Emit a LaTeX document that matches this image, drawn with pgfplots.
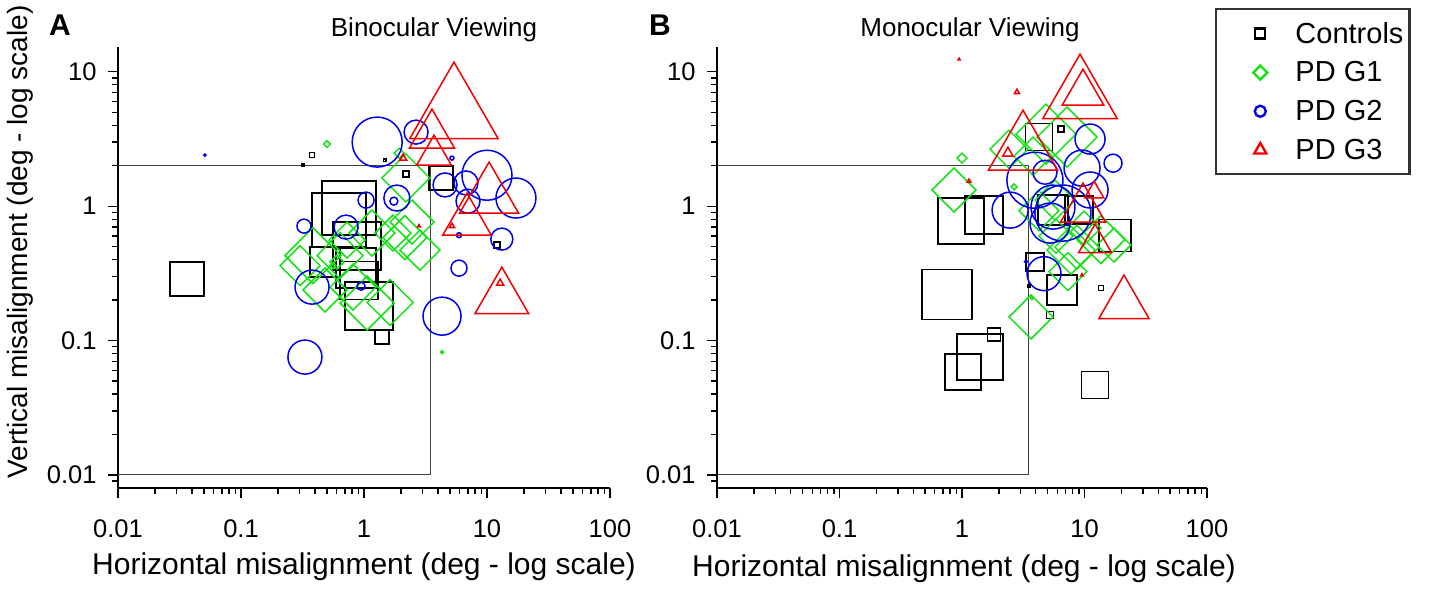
\documentclass[border=0pt]{standalone}
\usepackage{pgfplots}
\pgfplotsset{compat=1.18}
\usepackage{fontspec}
\setmainfont{Liberation Sans}

\definecolor{mgreen}{RGB}{20,225,20}
\definecolor{mblue}{RGB}{0,0,235}
\definecolor{mred}{RGB}{240,0,0}

% diamond with equal width and height (MATLAB style)
\pgfdeclareplotmark{rdiamond}{%
  \pgfpathmoveto{\pgfqpoint{0pt}{\pgfplotmarksize}}%
  \pgfpathlineto{\pgfqpoint{\pgfplotmarksize}{0pt}}%
  \pgfpathlineto{\pgfqpoint{0pt}{-\pgfplotmarksize}}%
  \pgfpathlineto{\pgfqpoint{-\pgfplotmarksize}{0pt}}%
  \pgfpathclose\pgfusepathqstroke}

\pgfplotsset{
  every axis/.append style={
    scale only axis, height=441pt,
    xmin=0.01, xmax=100, ymin=0.0080, ymax=15.3,
    axis lines=left, axis line style={-, line width=1.6pt},
    tick align=outside, major tick length=10pt, minor tick length=6pt,
    tick style={black, line width=1.3pt},
    xtick={0.01,0.1,1,10,100}, xticklabels={0.01,0.1,1,10,100},
    ytick={0.01,0.1,1,10}, yticklabels={0.01,0.1,1,10},
    minor xtick={0.02,0.03,0.04,0.05,0.06,0.07,0.08,0.09,0.2,0.3,0.4,0.5,0.6,0.7,0.8,0.9,2,3,4,5,6,7,8,9,20,30,40,50,60,70,80,90},
    minor ytick={0.009,0.02,0.03,0.04,0.05,0.06,0.07,0.08,0.09,0.2,0.3,0.4,0.5,0.6,0.7,0.8,0.9,2,3,4,5,6,7,8,9},
    tick label style={font=\fontsize{25.5}{28}\selectfont},
    xticklabel style={yshift=-18pt},
    yticklabel style={xshift=-8pt},
    clip=false,
  },
}

\begin{document}
\begin{tikzpicture}
\useasboundingbox (0pt,0pt) rectangle (1430pt,590pt);

% ---------------- panel A ----------------
\begin{loglogaxis}[at={(118pt,102pt)}, anchor=south west, width=492pt]
\addplot[black!75, line width=1pt, no marks, forget plot] coordinates {(0.01,2) (3.5,2) (3.5,0.01) (0.01,0.01)};
\addplot[only marks, mark=square, line width=1.5pt, draw=black, scatter,
    scatter/use mapped color={draw=black, fill=none}, point meta=explicit,
    visualization depends on={\thisrow{r}\as\psz},
    scatter/@pre marker code/.append style={/tikz/mark size=\psz pt}, forget plot]
  table[row sep=\\, meta=r] {
x y r \\
0.755 0.968 27 \\ 0.627 0.788 27 \\ 0.877 0.505 24 \\ 0.482 0.384 15 \\
0.861 0.346 20 \\ 0.910 0.280 19 \\ 1.10 0.181 24 \\ 1.40 0.106 7 \\
2.19 1.73 3 \\ 4.23 1.62 12 \\ 12.1 0.514 3 \\ 0.378 2.40 2.5 \\
0.319 2.02 1.2 \\ 1.48 2.20 1.2 \\ 0.0364 0.287 17 \\
};
\addplot[only marks, mark=rdiamond, line width=1.5pt, draw=mgreen, scatter,
    scatter/use mapped color={draw=mgreen, fill=none}, point meta=explicit,
    visualization depends on={\thisrow{r}\as\psz},
    scatter/@pre marker code/.append style={/tikz/mark size=\psz pt}, forget plot]
  table[row sep=\\, meta=r] {
x y r \\
2.19 1.62 24 \\ 2.46 0.762 22 \\ 2.15 0.584 22 \\ 1.72 0.631 18 \\
2.85 0.471 20 \\ 0.302 0.361 20 \\ 0.384 0.429 28 \\ 0.638 0.429 23 \\
0.728 0.560 18 \\ 0.815 0.250 23 \\ 1.06 0.190 27 \\ 1.63 0.192 23 \\
0.603 0.384 7 \\ 0.560 0.361 3 \\ 1.16 0.631 23 \\ 1.93 2.48 5 \\
4.31 0.082 1.5 \\ 0.500 2.90 3.3 \\ 0.482 0.238 22 \\
};
\addplot[only marks, mark=o, line width=1.5pt, draw=mblue, scatter,
    scatter/use mapped color={draw=mblue, fill=none}, point meta=explicit,
    visualization depends on={\thisrow{r}\as\psz},
    scatter/@pre marker code/.append style={/tikz/mark size=\psz pt}, forget plot]
  table[row sep=\\, meta=r] {
x y r \\
1.28 3.00 25 \\ 2.65 3.56 12 \\ 10.0 1.70 25 \\ 17.2 1.15 20 \\
4.56 1.44 12 \\ 6.75 1.49 12 \\ 7.01 1.09 12 \\ 13.2 0.569 11 \\
5.92 0.346 8 \\ 4.31 0.152 19 \\ 5.19 2.28 2 \\ 5.92 0.609 2.5 \\
1.85 1.15 13 \\ 1.75 1.09 4 \\ 1.04 1.11 8 \\ 0.715 0.699 12 \\
0.325 0.711 7 \\ 0.378 0.250 17 \\ 0.946 0.254 4 \\ 0.331 0.0754 17 \\
0.0509 2.40 1 \\
};
\addplot[only marks, mark=triangle, line width=1.5pt, draw=mred, scatter,
    scatter/use mapped color={draw=mred, fill=none}, point meta=explicit,
    visualization depends on={\thisrow{r}\as\psz},
    scatter/@pre marker code/.append style={/tikz/mark size=\psz pt}, forget plot]
  table[row sep=\\, meta=r] {
x y r \\
5.39 4.93 51 \\ 3.57 3.38 26 \\ 3.71 2.40 20 \\ 10.4 1.19 34 \\
6.88 0.775 28 \\ 13.2 0.207 31 \\ 12.8 0.268 4 \\ 5.19 0.711 3 \\
2.08 2.28 4 \\ 2.80 0.711 1.5 \\
};
\end{loglogaxis}

% ---------------- panel B ----------------
\begin{loglogaxis}[at={(717pt,102pt)}, anchor=south west, width=490pt,
    legend style={at={(1.0163,1.0884)}, anchor=north west, draw=black!80,
      line width=2.2pt, font=\fontsize{29}{31}\selectfont,
      inner xsep=4pt, inner ysep=11pt, row sep=13pt},
    legend cell align=left,
    legend image code/.code={\path (0pt,0pt) (71pt,0pt);
      \draw[#1] plot coordinates {(39pt,0pt)};}]
\addplot[black!75, line width=1pt, no marks, forget plot] coordinates {(0.01,2) (3.5,2) (3.5,0.01) (0.01,0.01)};
\addplot[only marks, mark=square, line width=1.5pt, draw=black, scatter,
    scatter/use mapped color={draw=black, fill=none}, point meta=explicit,
    visualization depends on={\thisrow{r}\as\psz},
    scatter/@pre marker code/.append style={/tikz/mark size=\psz pt}, forget plot]
  table[row sep=\\, meta=r] {
x y r \\
0.982 0.775 23 \\ 1.51 0.859 19 \\ 0.755 0.220 25 \\ 1.40 0.0754 23 \\
1.02 0.0583 18 \\ 1.82 0.111 6.5 \\ 12.2 0.0467 13.5 \\ 17.7 0.608 16 \\
6.55 0.238 15 \\ 4.25 3.27 13.5 \\ 6.43 3.75 3 \\ 3.94 0.384 9 \\
5.23 0.155 3.5 \\ 5.53 0.935 15 \\ 9.02 0.935 14 \\ 13.6 0.246 2.5 \\
3.52 0.254 1.2 \\
};
\addplot[only marks, mark=rdiamond, line width=1.5pt, draw=mgreen, scatter,
    scatter/use mapped color={draw=mgreen, fill=none}, point meta=explicit,
    visualization depends on={\thisrow{r}\as\psz},
    scatter/@pre marker code/.append style={/tikz/mark size=\psz pt}, forget plot]
  table[row sep=\\, meta=r] {
x y r \\
0.861 1.32 22 \\ 1.00 2.28 5 \\ 4.85 3.44 30 \\ 7.20 3.27 30 \\
2.42 2.66 19 \\ 3.80 2.36 19 \\ 5.74 1.11 20 \\ 7.76 0.471 24 \\
13.6 0.564 24 \\ 7.33 0.326 19 \\ 3.66 0.150 22 \\ 5.85 0.599 17 \\
9.91 0.687 17 \\ 8.69 0.496 22 \\ 2.66 1.39 3 \\ 3.73 0.207 1.5 \\
4.25 0.926 20 \\ 17.4 0.514 17 \\
};
\addplot[only marks, mark=o, line width=1.5pt, draw=mblue, scatter,
    scatter/use mapped color={draw=mblue, fill=none}, point meta=explicit,
    visualization depends on={\thisrow{r}\as\psz},
    scatter/@pre marker code/.append style={/tikz/mark size=\psz pt}, forget plot]
  table[row sep=\\, meta=r] {
x y r \\
11.1 3.16 15 \\ 17.1 2.09 9 \\ 3.94 1.56 28 \\ 4.76 1.79 12 \\
9.55 1.92 18 \\ 11.1 1.32 18 \\ 2.47 0.935 18 \\ 5.53 0.985 22 \\
6.67 0.889 28 \\ 5.23 0.749 20 \\ 4.67 0.315 17 \\ 3.33 0.387 1.5 \\
};
\addplot[only marks, mark=triangle, line width=1.5pt, draw=mred, scatter,
    scatter/use mapped color={draw=mred, fill=none}, point meta=explicit,
    visualization depends on={\thisrow{r}\as\psz},
    scatter/@pre marker code/.append style={/tikz/mark size=\psz pt}, forget plot]
  table[row sep=\\, meta=r] {
x y r \\
9.19 6.48 43 \\ 9.72 6.94 24 \\ 3.15 2.61 40 \\ 2.37 2.48 6 \\
9.72 0.951 26 \\ 12.0 1.27 11 \\ 12.2 0.531 19 \\ 21.0 0.187 29 \\
2.81 7.06 3 \\ 0.947 12.4 1.2 \\ 1.14 1.54 2 \\ 9.55 0.307 1.5 \\
};
\addlegendimage{only marks, mark=square, black, line width=2.4pt, mark size=5pt}
\addlegendentry{Controls}
\addlegendimage{only marks, mark=rdiamond, mgreen, line width=2.4pt, mark size=7pt}
\addlegendentry{PD G1}
\addlegendimage{only marks, mark=o, mblue, line width=2.4pt, mark size=5.5pt}
\addlegendentry{PD G2}
\addlegendimage{only marks, mark=triangle, mred, line width=2.4pt, mark size=7pt}
\addlegendentry{PD G3}
\end{loglogaxis}

% ---------------- texts ----------------
\node[font=\fontsize{26}{30}\selectfont, anchor=base] at (434pt,553pt) {Binocular Viewing};
\node[font=\fontsize{26}{30}\selectfont, anchor=base] at (970pt,553pt) {Monocular Viewing};
\node[font=\fontsize{30}{32}\selectfont\bfseries, anchor=base] at (60pt,554pt) {A};
\node[font=\fontsize{30}{32}\selectfont\bfseries, anchor=base] at (660pt,554pt) {B};
\node[font=\fontsize{30}{34}\selectfont, anchor=base] at (364pt,16pt) {Horizontal misalignment (deg - log scale)};
\node[font=\fontsize{30}{34}\selectfont, anchor=base] at (964pt,14pt) {Horizontal misalignment (deg - log scale)};
\node[font=\fontsize{28}{32}\selectfont, rotate=90, anchor=base] at (27pt,348pt) {Vertical misalignment (deg - log scale)};
\end{tikzpicture}
\end{document}
